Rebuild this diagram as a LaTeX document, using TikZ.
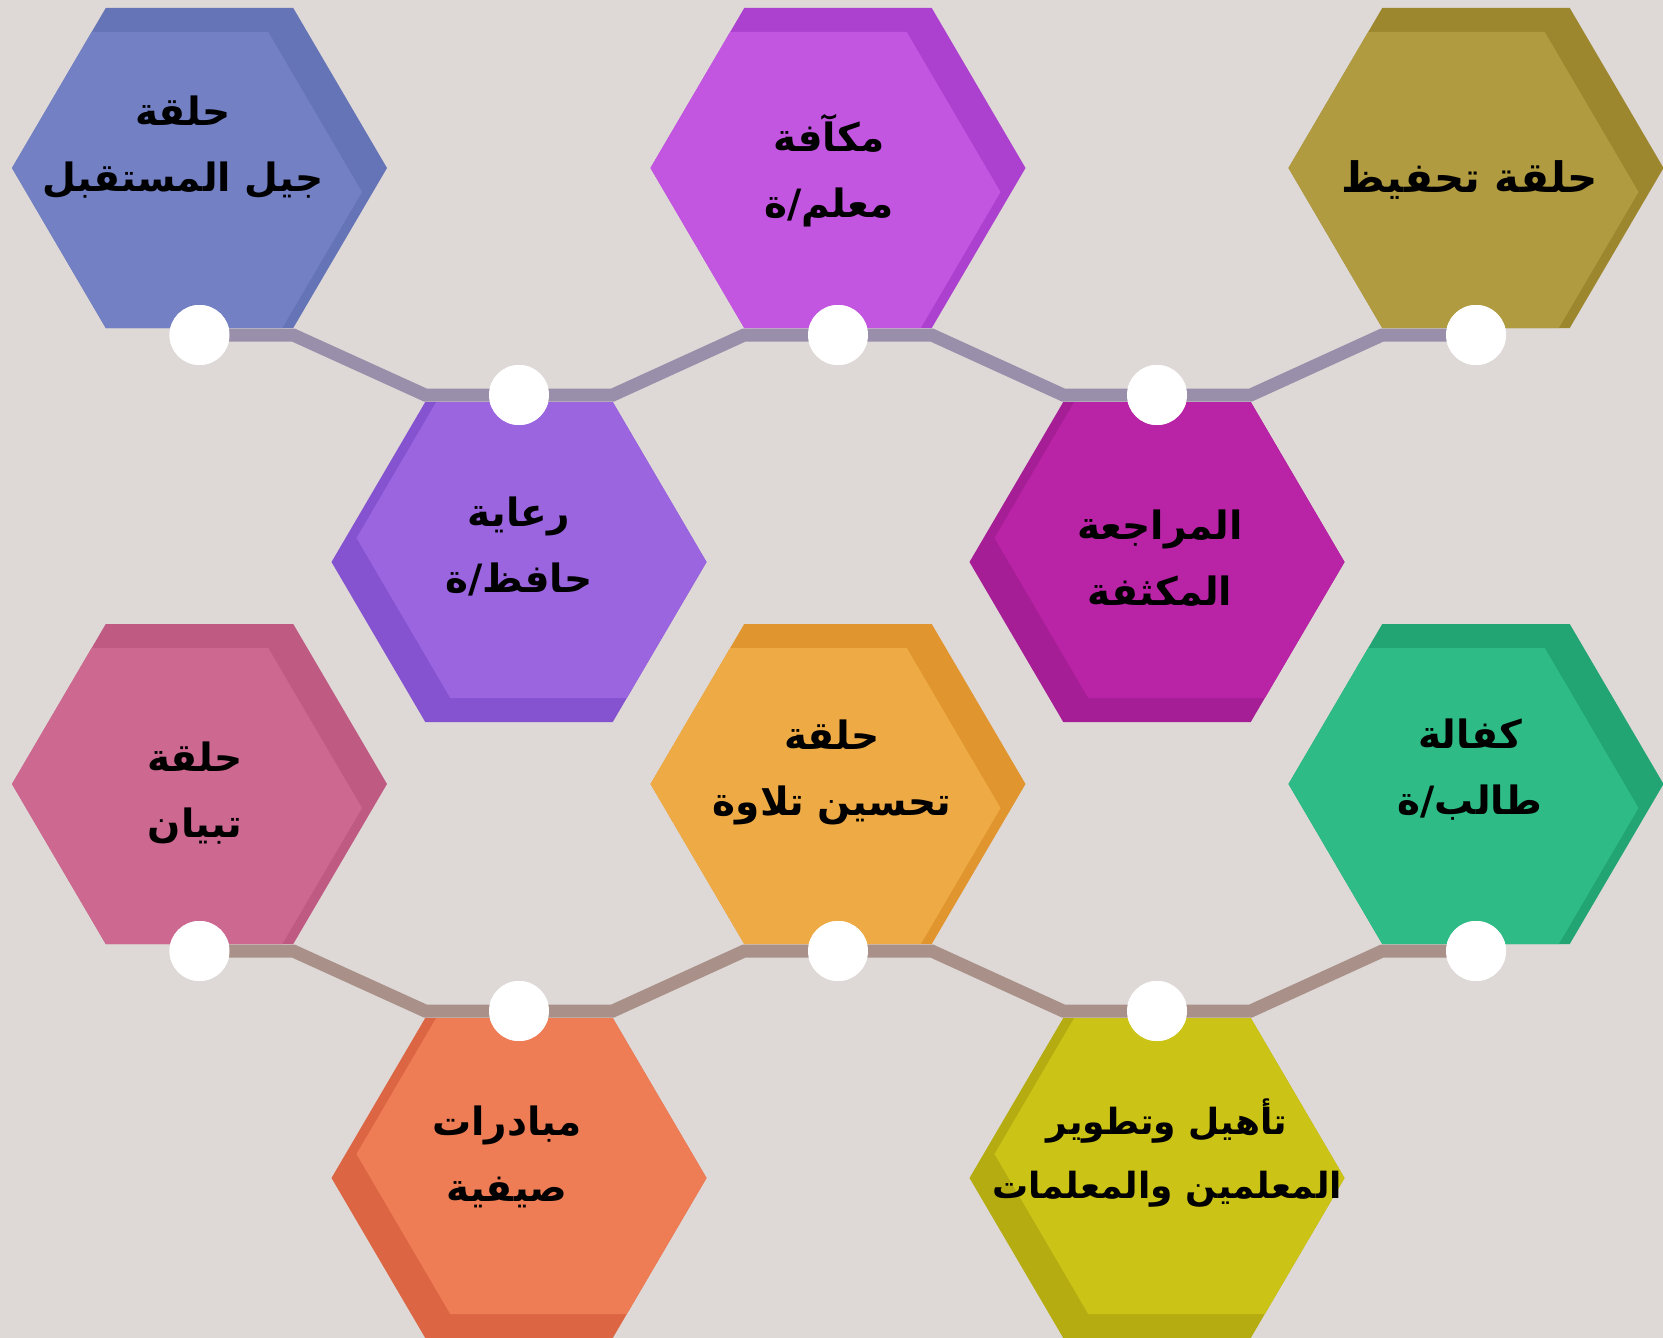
\documentclass[tikz,border=0pt]{standalone}
\usepackage{fontspec}
\newfontfamily\arabicfont[Script=Arabic]{DejaVu Sans}
\TeXXeTstate=1
\definecolor{bg}{HTML}{DED9D6}
\definecolor{blueL}{HTML}{7380C4}\definecolor{blueD}{HTML}{6474B6}
\definecolor{violetL}{HTML}{C256E0}\definecolor{violetD}{HTML}{AD41CF}
\definecolor{goldL}{HTML}{B09B40}\definecolor{goldD}{HTML}{9C862E}
\definecolor{purpleL}{HTML}{9B65E0}\definecolor{purpleD}{HTML}{8553CF}
\definecolor{magL}{HTML}{B923A6}\definecolor{magD}{HTML}{A61E96}
\definecolor{pinkL}{HTML}{CD6890}\definecolor{pinkD}{HTML}{BF5A83}
\definecolor{orangeL}{HTML}{EEAB45}\definecolor{orangeD}{HTML}{E0952F}
\definecolor{greenL}{HTML}{2EBB86}\definecolor{greenD}{HTML}{22A573}
\definecolor{redL}{HTML}{EE7D56}\definecolor{redD}{HTML}{DC6543}
\definecolor{yelL}{HTML}{CCC317}\definecolor{yelD}{HTML}{B5AC12}
\definecolor{lineTop}{HTML}{998FAA}
\definecolor{lineBot}{HTML}{A9918A}
\newcommand{\hexshape}{(-187.5,0) -- (-93.75,-160) -- (93.75,-160) -- (187.5,0) -- (93.75,160) -- (-93.75,160) -- cycle}
% band on top and right
\newcommand{\hexTR}[4]{%
  \begin{scope}[shift={(#1,#2)}]
    \fill[#3] \hexshape;
    \begin{scope}
      \clip \hexshape;
      \fill[#4, shift={(-25,24)}] \hexshape;
    \end{scope}
  \end{scope}}
% band on left and bottom
\newcommand{\hexBL}[4]{%
  \begin{scope}[shift={(#1,#2)}]
    \fill[#3] \hexshape;
    \begin{scope}
      \clip \hexshape;
      \fill[#4, shift={(25,-24)}] \hexshape;
    \end{scope}
  \end{scope}}
\begin{document}
\begin{tikzpicture}[x=1pt,y=-1pt,
  lbl/.style={font=\arabicfont\bfseries\fontsize{39}{66}\selectfont, align=center, text=black, inner sep=0pt},
  dot/.style={circle, fill=white, minimum size=60pt, inner sep=0pt},
  conn/.style={line width=13pt, line join=miter}]
\useasboundingbox (0,0) rectangle (1663,1338);
\fill[bg] (0,0) rectangle (1663,1338);

% hexagons
\hexTR{199.5}{168}{blueD}{blueL}
\hexTR{838}{168}{violetD}{violetL}
\hexTR{1476}{168}{goldD}{goldL}
\hexBL{519}{562}{purpleD}{purpleL}
\hexBL{1157}{562}{magD}{magL}
\hexTR{199.5}{784}{pinkD}{pinkL}
\hexTR{838}{784}{orangeD}{orangeL}
\hexTR{1476}{784}{greenD}{greenL}
\hexBL{519}{1178}{redD}{redL}
\hexBL{1157}{1178}{yelD}{yelL}

% dots
\node[dot] (a1) at (199.5,335) {};
\node[dot] (a2) at (519,395) {};
\node[dot] (a3) at (838,335) {};
\node[dot] (a4) at (1157,395) {};
\node[dot] (a5) at (1476,335) {};
\node[dot] (b1) at (199.5,951) {};
\node[dot] (b2) at (519,1011) {};
\node[dot] (b3) at (838,951) {};
\node[dot] (b4) at (1157,1011) {};
\node[dot] (b5) at (1476,951) {};

% connectors
\draw[conn, lineTop] (a1.center) -- ([xshift=93.75pt]a1.center) -- ([xshift=-93.75pt]a2.center) -- ([xshift=93.75pt]a2.center)
  -- ([xshift=-93.75pt]a3.center) -- ([xshift=93.75pt]a3.center) -- ([xshift=-93.75pt]a4.center) -- ([xshift=93.75pt]a4.center)
  -- ([xshift=-93.75pt]a5.center) -- (a5.center);
\draw[conn, lineBot] (b1.center) -- ([xshift=93.75pt]b1.center) -- ([xshift=-93.75pt]b2.center) -- ([xshift=93.75pt]b2.center)
  -- ([xshift=-93.75pt]b3.center) -- ([xshift=93.75pt]b3.center) -- ([xshift=-93.75pt]b4.center) -- ([xshift=93.75pt]b4.center)
  -- ([xshift=-93.75pt]b5.center) -- (b5.center);
\foreach \n in {a1,a2,a3,a4,a5,b1,b2,b3,b4,b5} \fill[white] (\n) circle (30pt);

% labels
\node[lbl] (t1) at (183,147) {\beginR حلقة\endR\\\beginR جيل المستقبل\endR};
\node[lbl] (t2) at (829,171) {\beginR مكآفة\endR\\\beginR معلم/ة\endR};
\node[lbl, font=\arabicfont\bfseries\fontsize{42}{66}\selectfont] (t3) at (1470,180) {\beginR حلقة تحفيظ\endR};
\node[lbl] (t4) at (519,546) {\beginR رعاية\endR\\\beginR حافظ/ة\endR};
\node[lbl] (t5) at (1160,558) {\beginR المراجعة\endR\\\beginR المكثفة\endR};
\node[lbl] (t6) at (195,793) {\beginR حلقة\endR\\\beginR تبيان\endR};
\node[lbl] (t7) at (832,772) {\beginR حلقة\endR\\\beginR تحسين تلاوة\endR};
\node[lbl] (t8) at (1470,770) {\beginR كفالة\endR\\\beginR طالب/ة\endR};
\node[lbl] (t9) at (507,1157) {\beginR مبادرات\endR\\\beginR صيفية\endR};
\node[lbl, font=\arabicfont\bfseries\fontsize{36}{64}\selectfont] (t10) at (1167,1153) {\beginR تأهيل وتطوير\endR\\\beginR المعلمين والمعلمات\endR};
\end{tikzpicture}
\end{document}
